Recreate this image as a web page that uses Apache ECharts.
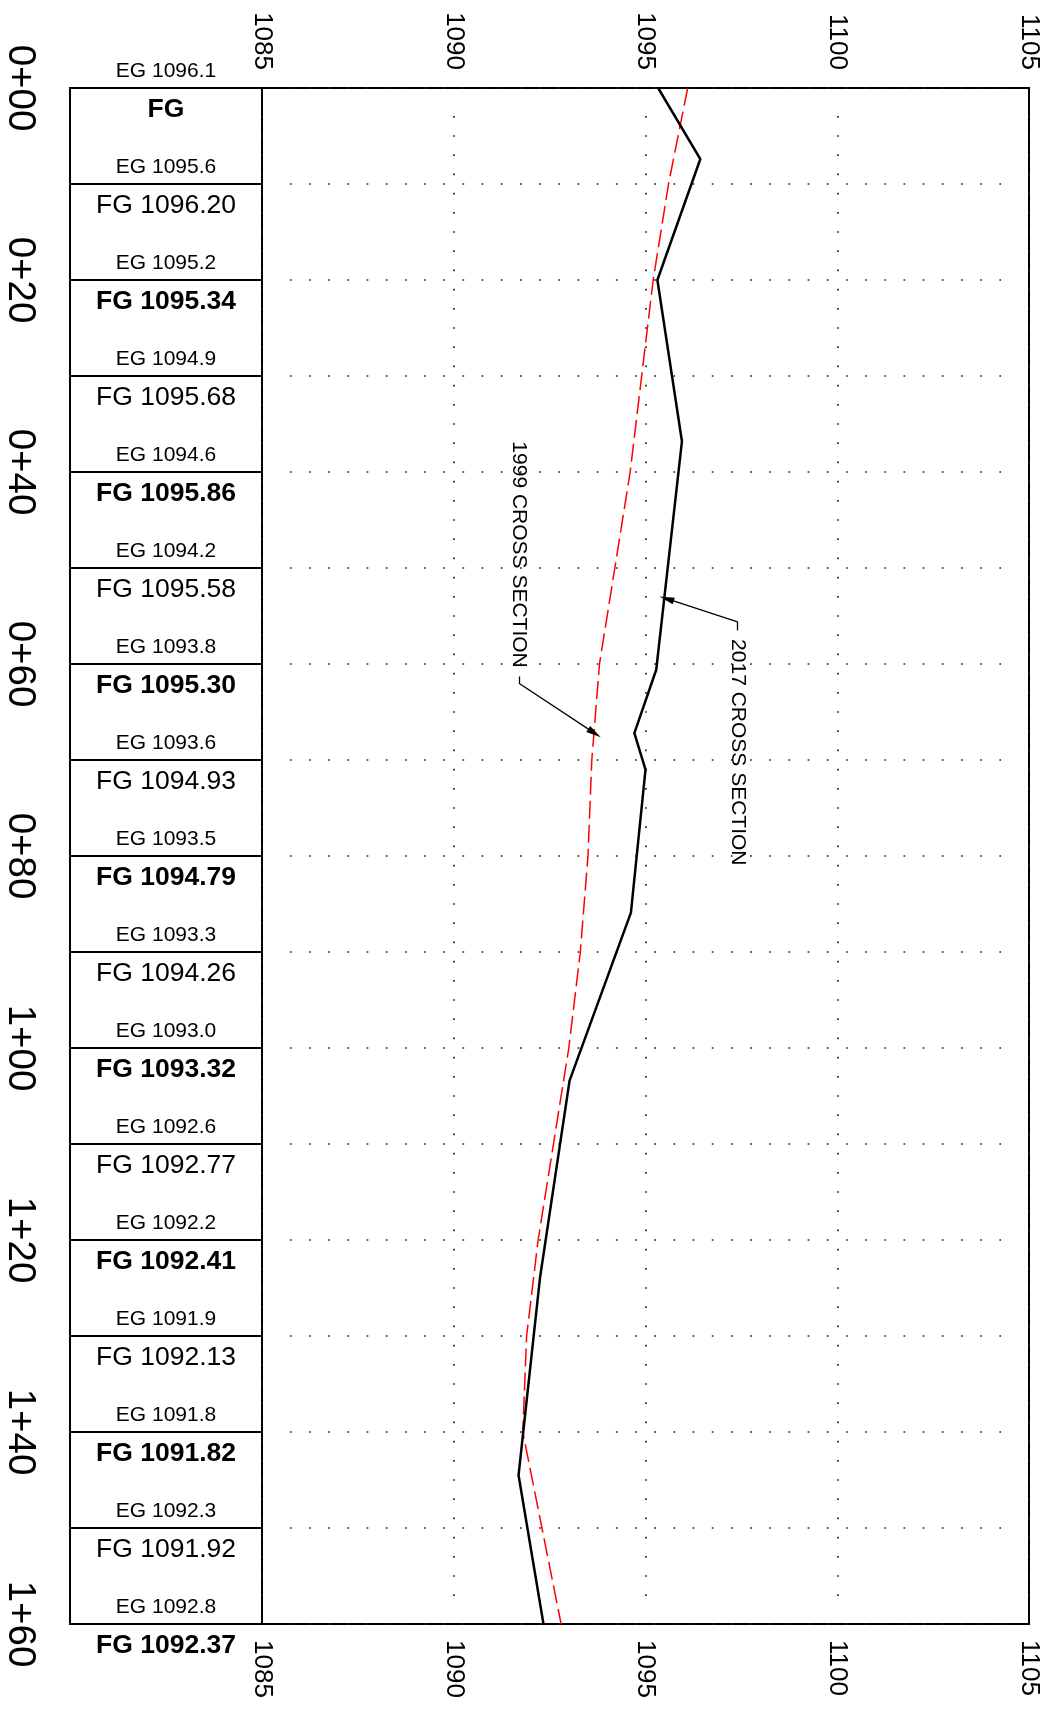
<!DOCTYPE html>
<html>
<head>
<meta charset="utf-8">
<script src="https://cdn.jsdelivr.net/npm/echarts@6/dist/echarts.min.js"></script>
<style>
html,body{margin:0;padding:0;background:#fff;}
#chart{width:1049px;height:1711px;}
</style>
</head>
<body>
<div id="chart"></div>
<script>
// ---- data ----
const stations = [0,10,20,30,40,50,60,70,80,90,100,110,120,130,140,150,160];
const egValues = [1096.1,1095.6,1095.2,1094.9,1094.6,1094.2,1093.8,1093.6,1093.5,1093.3,1093.0,1092.6,1092.2,1091.9,1091.8,1092.3,1092.8];
const fgValues = [null,1096.20,1095.34,1095.68,1095.86,1095.58,1095.30,1094.93,1094.79,1094.26,1093.32,1092.77,1092.41,1092.13,1091.82,1091.92,1092.37];
// 2017 cross section survey points
const xs2017Station = [0,7.4,20.0,36.8,60.6,67.2,71.0,85.9,103.4,123.9,144.5,160];
const xs2017Elev = [1095.33,1096.43,1095.31,1095.95,1095.28,1094.71,1095.00,1094.62,1093.02,1092.25,1091.69,1092.34];
// 1999 cross section = existing ground (EG)
const xs1999Station = stations;
const xs1999Elev = egValues;
const elevTicks = ['1085','1090','1095','1100','1105'];
const stationTicks = ['0+00','0+20','0+40','0+60','0+80','1+00','1+20','1+40','1+60'];
// annotations [elev, station]
const note1999Text = [1091.70, 48.6];
const note1999Hook = [[1091.70, 61.3],[1091.70, 62.0]];
const note1999Tip = [1093.67, 67.2];
const note2017Text = [1097.40, 69.2];
const note2017Hook = [[1097.40, 56.5],[1097.40, 55.6]];
const note2017Tip = [1095.55, 53.2];

// ---- layout ----
const G1 = {left:262, top:88, width:767, height:1536};
const G0 = {left:70, top:88, width:192, height:1536};

function dots(first, period, count, d){
  const a=[0, first - d/2];
  for(let k=0;k<count;k++){ a.push(d, k<count-1 ? period-d : 3000); }
  return a;
}
const dotH = dots(0.75*G1.width/20, 0.5*G1.width/20, 38, 1.7);
const dotV = dots(3*G1.height/160, 2*G1.height/160, 78, 1.7);

const arrowPath = 'path://M5,0 L10,22 L0,22 Z';
const font = 'Liberation Sans, Arial, Helvetica, sans-serif';

const chart = echarts.init(document.getElementById('chart'), null, {renderer:'canvas'});
const option = {
  animation:false,
  backgroundColor:'#fff',
  textStyle:{fontFamily:font, color:'#000'},
  grid:[
    Object.assign({show:true, borderColor:'#000', borderWidth:2, backgroundColor:'transparent'}, G0),
    Object.assign({show:true, borderColor:'#000', borderWidth:2, backgroundColor:'transparent'}, G1)
  ],
  xAxis:[
    {gridIndex:0, type:'value', min:0, max:1, show:false},
    {gridIndex:1, type:'value', position:'top', min:1085, max:1105, interval:5,
     axisLine:{show:false}, axisTick:{show:false},
     axisLabel:{rotate:-90, margin:18, fontSize:26, color:'#000', fontFamily:font,
       formatter:v=>elevTicks[Math.round((v-1085)/5)]},
     splitLine:{show:true, lineStyle:{color:'#222', width:1.7, type:dotV}}},
    {gridIndex:1, type:'value', position:'bottom', min:1085, max:1105, interval:5,
     axisLine:{show:false}, axisTick:{show:false},
     axisLabel:{rotate:-90, margin:16, fontSize:26, color:'#000', fontFamily:font,
       formatter:v=>elevTicks[Math.round((v-1085)/5)]},
     splitLine:{show:false}}
  ],
  yAxis:[
    {gridIndex:0, type:'value', min:0, max:160, interval:10, inverse:true, position:'left',
     axisLine:{show:false}, axisTick:{show:false},
     axisLabel:{rotate:-90, margin:31, fontSize:38.5, color:'#000', fontFamily:font,
       formatter:v=> (v%20===0 ? stationTicks[v/20] : '')},
     splitLine:{show:true, lineStyle:{color:'#000', width:2}}},
    {gridIndex:1, type:'value', min:0, max:160, interval:10, inverse:true,
     axisLine:{show:false}, axisTick:{show:false}, axisLabel:{show:false},
     splitLine:{show:true, lineStyle:{color:'#222', width:1.7, type:dotH}}}
  ],
  series:[
    {
      name:'EG', type:'scatter', xAxisIndex:0, yAxisIndex:0, clip:false,
      symbolSize:0, silent:true, itemStyle:{opacity:1},
      data: stations.map((s,i)=>[0.5, s]),
      label:{show:true, position:'top', distance:6, fontSize:21, color:'#000', opacity:1, fontFamily:font,
        formatter:p=>'EG ' + egValues[p.dataIndex].toFixed(1)}
    },
    {
      name:'FG', type:'scatter', xAxisIndex:0, yAxisIndex:0, clip:false,
      symbolSize:0, silent:true, itemStyle:{opacity:1},
      data: stations.map((s,i)=>({value:[0.5, s],
        label:{fontWeight: (s%20===0) ? 'bold' : 'normal'}})),
      label:{show:true, position:'bottom', distance:8, fontSize:26.5, color:'#000', opacity:1, fontFamily:font,
        formatter:p=> fgValues[p.dataIndex]===null ? 'FG' : 'FG ' + fgValues[p.dataIndex].toFixed(2)}
    },
    {
      name:'1999 CROSS SECTION', type:'line', xAxisIndex:1, yAxisIndex:1,
      symbol:'none', silent:true,
      data: xs1999Station.map((s,i)=>[xs1999Elev[i], s]),
      lineStyle:{color:'#ff0000', width:1.5, type:[18,6]},
      markLine:{silent:true, symbol:['none','none'], animation:false,
        lineStyle:{color:'#000', width:1.3, type:'solid'}, label:{show:false},
        data:[
          [{coord:note1999Hook[0]},{coord:note1999Hook[1]}],
          [{coord:note1999Hook[1]},{coord:note1999Tip, symbol:arrowPath, symbolSize:[7,15]}]
        ]},
      markPoint:{silent:true, animation:false,
        data:[{coord:note1999Text, symbol:'circle', symbolSize:0,
          label:{show:true, position:'inside', rotate:-90, fontSize:21, color:'#000', fontFamily:font,
            formatter:'1999 CROSS SECTION'}}]}
    },
    {
      name:'2017 CROSS SECTION', type:'line', xAxisIndex:1, yAxisIndex:1,
      symbol:'none', silent:true,
      data: xs2017Station.map((s,i)=>[xs2017Elev[i], s]),
      lineStyle:{color:'#000', width:2.5},
      markLine:{silent:true, symbol:['none','none'], animation:false,
        lineStyle:{color:'#000', width:1.3, type:'solid'}, label:{show:false},
        data:[
          [{coord:note2017Hook[0]},{coord:note2017Hook[1]}],
          [{coord:note2017Hook[1]},{coord:note2017Tip, symbol:arrowPath, symbolSize:[7,15]}]
        ]},
      markPoint:{silent:true, animation:false,
        data:[{coord:note2017Text, symbol:'circle', symbolSize:0,
          label:{show:true, position:'inside', rotate:-90, fontSize:21, color:'#000', fontFamily:font,
            formatter:'2017 CROSS SECTION'}}]}
    }
  ]
};
chart.setOption(option);
</script>
</body>
</html>
